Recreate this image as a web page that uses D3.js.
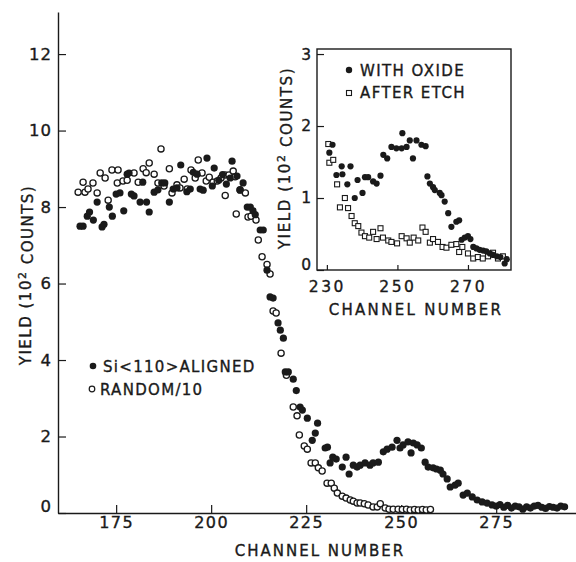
<!DOCTYPE html>
<html><head><meta charset="utf-8">
<script src="https://cdn.jsdelivr.net/npm/d3@7"></script>
<style>
body{margin:0;background:#fff}
svg{display:block}
text{font-family:"DejaVu Sans",sans-serif;fill:#1a1a1a;stroke:#1a1a1a;stroke-width:0.35px}
</style>
</head><body>
<svg id="c" width="576" height="562"></svg>
<script>
// ---------- main chart data ----------
const alignedCh = [165.5,166.3,167.4,168.0,169.0,170.0,171.3,171.8,173.2,174.0,175.0,176.0,177.0,177.9,178.4,179.0,179.7,181.3,182.0,183.0,183.7,185.0,186.0,187.0,187.8,189.0,190.0,191.0,192.0,193.6,194.5,195.3,196.3,197.1,197.9,198.9,200.3,200.8,202.0,203.0,204.0,205.0,205.5,206.8,207.6,208.4,209.5,210.3,211.0,211.6,212.9,213.7,214.7,215.5,216.3,217.6,218.2,219.0,219.5,220.3,221.6,222.4,223.4,224.0,225.3,226.6,227.4,228.0,230.0,230.6,231.3,232.0,232.9,234.5,235.5,236.3,237.4,238.4,239.2,240.5,241.8,242.6,244.0,245.3,246.3,247.6,248.9,249.7,250.5,251.8,252.6,253.2,254.2,255.3,256.3,257.1,258.4,259.3,260.3,261.0,262.1,262.9,264.2,265.0,266.3,267.4,268.7,270.0,271.3,272.6,273.9,275,276,277,278,279,280,281,282,283,284,285,286,287,288,289,290,291,292,293];
const alignedVal = [7.50,7.50,7.76,7.87,7.66,8.13,7.48,7.55,8.00,7.76,8.34,8.37,7.90,8.86,8.89,8.34,8.29,8.13,8.65,8.13,7.87,8.39,8.45,8.63,8.63,8.13,8.47,8.50,9.10,8.40,8.47,8.91,8.86,8.47,8.44,9.28,8.55,9.02,8.70,8.85,8.60,8.76,9.20,8.81,8.44,8.63,8.00,8.00,7.90,7.80,7.40,7.40,6.35,5.65,5.62,4.97,4.78,4.57,3.69,3.69,3.50,3.20,2.77,2.69,2.48,1.90,2.09,2.35,1.70,1.72,1.31,1.46,1.41,1.20,1.46,1.02,1.25,1.20,1.25,1.31,1.25,1.31,1.33,1.60,1.67,1.72,1.90,1.70,1.78,1.86,1.57,1.83,1.78,1.70,1.33,1.20,1.18,1.15,1.12,1.02,0.89,0.68,0.73,0.78,0.47,0.52,0.42,0.34,0.29,0.26,0.21,0.18,0.22,0.15,0.20,0.13,0.18,0.16,0.10,0.16,0.13,0.18,0.20,0.15,0.12,0.17,0.15,0.13,0.18,0.16];

const randomCh = [165.0,166.3,166.8,167.6,168.9,170.0,170.8,172.1,172.9,173.9,175.3,175.5,176.8,177.9,179.7,180.8,182.1,182.9,183.7,185.0,186.0,186.8,187.6,189.0,189.7,191.0,191.8,192.9,193.7,194.7,195.8,196.6,197.6,198.7,199.5,200.5,201.6,202.6,203.7,203.7,204.7,205.8,206.3,206.6,207.6,209.0,209.7,210.5,211.8,212.4,213.4,214.7,215.5,216.3,217.1,218.4,219.8,221.6,222.6,223.2,224.5,225.3,226.3,227.4,228.2,229.2,230.5,231.6,232.4,233.2,234.5,235.5,236.6,237.4,238.4,239.2,240.3,241.3,242.6,243.7,244.5,245.8,246.8,247.9,249.2,250.3,251.4,252.4,253.5,254.5,255.6,256.6,257.7];
const randomVal = [8.39,8.65,8.39,8.47,8.63,8.37,8.89,8.76,8.18,8.97,8.63,8.97,8.68,8.70,8.89,8.65,9.00,8.90,9.15,8.86,8.63,9.52,8.55,9.00,8.37,8.58,8.50,8.73,8.47,8.97,8.76,9.23,8.89,8.68,8.78,8.65,8.68,8.76,8.84,8.30,8.84,8.94,8.79,7.82,8.45,8.37,7.74,7.76,7.66,7.14,6.70,6.50,6.25,5.28,5.23,4.18,3.60,2.77,2.54,2.04,1.75,1.67,1.31,1.31,1.18,1.10,0.78,0.78,0.65,0.52,0.44,0.39,0.34,0.31,0.26,0.26,0.24,0.21,0.16,0.16,0.24,0.13,0.10,0.10,0.10,0.09,0.10,0.08,0.09,0.08,0.09,0.08,0.09];

const mainXTicks = [175,200,225,250,275];
const mainYTicks = [0,2,4,6,8,10,12];
const mainLegend = ["Si<110>ALIGNED","RANDOM/10"];

// ---------- inset data ----------
const oxideCh = [230.7,231.6,232.7,234.2,234.4,235.8,236.7,237.9,238.7,240.1,240.8,241.7,243.1,244.1,245.2,246.0,247.1,248.3,249.7,251.2,251.4,252.6,253.5,254.4,255.4,256.8,258.0,258.5,259.2,260.1,260.6,262.0,262.5,263.4,264.4,265.3,266.7,267.5,268.2,269.1,270.0,270.7,271.5,272.4,273.3,274.3,275.2,276.2,277.1,278.2,279.2,280.4,281.0];
const oxideVal = [1.63,1.74,1.32,1.44,1.33,1.19,1.44,1.00,1.25,1.07,1.29,1.29,1.23,1.20,1.31,1.60,1.55,1.71,1.69,1.69,1.90,1.71,1.80,1.55,1.80,1.74,1.72,1.30,1.20,1.15,1.11,1.07,1.04,0.95,0.79,0.60,0.67,0.69,0.42,0.45,0.47,0.43,0.32,0.30,0.28,0.27,0.26,0.23,0.21,0.19,0.18,0.09,0.15];

const etchCh = [230.4,230.7,231.8,232.9,233.7,235.1,236.0,237.0,237.9,238.9,239.8,240.8,242.0,243.1,244.1,245.2,245.9,247.4,248.3,249.9,251.2,252.6,253.5,254.6,255.9,257.1,258.0,259.2,260.1,261.5,262.8,263.9,265.3,266.7,267.5,268.4,270.0,271.5,272.8,274.2,275.7,277.1,278.5,279.9];
const etchVal = [1.75,1.49,1.53,1.19,0.87,1.00,0.86,0.75,0.65,0.61,0.52,0.47,0.45,0.53,0.43,0.58,0.45,0.41,0.39,0.37,0.47,0.44,0.38,0.45,0.41,0.59,0.53,0.38,0.43,0.39,0.32,0.31,0.35,0.36,0.25,0.32,0.23,0.16,0.18,0.16,0.19,0.24,0.16,0.19];

const insetXTicks = [230,250,270];
const insetYTicks = [0,1,2,3];
const insetLegend = ["WITH OXIDE","AFTER ETCH"];

// ---------- drawing ----------
const ink = "#1a1a1a";
const svg = d3.select("#c");

const x = d3.scaleLinear().domain([159.7, 296]).range([58, 576]);
const y = d3.scaleLinear().domain([0, 13.1]).range([513, 12]);

function styleAxis(g, fs, ls){
  g.selectAll("path.domain").attr("stroke", ink).attr("stroke-width", 1.4);
  g.selectAll(".tick line").attr("stroke", ink).attr("stroke-width", 1.2);
  g.selectAll(".tick text").attr("fill", ink).style("font-size", fs+"px")
    .style("letter-spacing", ls+"px").attr("font-family", '"DejaVu Sans",sans-serif');
}

// main axes
const gx = svg.append("g").attr("transform","translate(0,513)")
  .call(d3.axisBottom(x).tickValues(mainXTicks).tickSize(-8).tickSizeOuter(0).tickPadding(4).tickFormat(d3.format("d")));
styleAxis(gx, 16, 1.5);
const gy = svg.append("g").attr("transform","translate(58,0)")
  .call(d3.axisLeft(y).tickValues(mainYTicks).tickSize(-8).tickSizeOuter(0).tickPadding(6).tickFormat(d3.format("d")));
styleAxis(gy, 16.5, 1);
gy.selectAll(".tick text").filter(d => d === 0).attr("y", -7);

// main axis titles
svg.append("text").attr("x", 320).attr("y", 556).attr("text-anchor","middle")
  .style("font-size","15px").style("letter-spacing","2px").text("CHANNEL NUMBER");
const yt = svg.append("text").attr("transform","translate(26,275) rotate(-90)")
  .attr("text-anchor","middle").attr("dy","0.36em")
  .style("font-size","15px").style("letter-spacing","1.5px");
yt.append("tspan").text("YIELD (10");
yt.append("tspan").attr("dy","-0.45em").style("font-size","11px").text("2");
yt.append("tspan").attr("dy","0.45em").text(" COUNTS)");

// main data
const aligned = alignedCh.map((c,i)=>({c, v: alignedVal[i]}));
const random = randomCh.map((c,i)=>({c, v: randomVal[i]}));

svg.append("g").selectAll("circle").data(random).join("circle")
  .attr("cx", d=>x(d.c)).attr("cy", d=>y(d.v)).attr("r", 3.1)
  .attr("fill","#fff").attr("stroke", ink).attr("stroke-width", 1.3);
svg.append("g").selectAll("circle").data(aligned).join("circle")
  .attr("cx", d=>x(d.c)).attr("cy", d=>y(d.v)).attr("r", 3.6)
  .attr("fill", ink);

// main legend
svg.append("circle").attr("cx", 93).attr("cy", 366).attr("r", 3.3).attr("fill", ink);
svg.append("text").attr("x", 103).attr("y", 372).style("font-size","15px").style("letter-spacing","1.3px").text(mainLegend[0]);
svg.append("circle").attr("cx", 92).attr("cy", 389).attr("r", 2.8).attr("fill","#fff").attr("stroke",ink).attr("stroke-width",1.2);
svg.append("text").attr("x", 100).attr("y", 395).style("font-size","15px").style("letter-spacing","1.3px").text(mainLegend[1]);

// ---------- inset ----------
const xi = d3.scaleLinear().domain([227.2, 282.2]).range([317, 511]);
const yi = d3.scaleLinear().domain([0, 3.07]).range([270, 49]);

svg.append("rect").attr("x",317).attr("y",49).attr("width",194).attr("height",221)
  .attr("fill","#fff").attr("stroke",ink).attr("stroke-width",1.4);

const gxi = svg.append("g").attr("transform","translate(0,270)")
  .call(d3.axisBottom(xi).tickValues(insetXTicks).tickSize(-5).tickSizeOuter(0).tickPadding(11).tickFormat(d3.format("d")));
styleAxis(gxi, 15.5, 2.5);
gxi.select("path.domain").remove();
const gyi = svg.append("g").attr("transform","translate(317,0)")
  .call(d3.axisLeft(yi).tickValues(insetYTicks).tickSize(-7).tickSizeOuter(0).tickPadding(6).tickFormat(d3.format("d")));
styleAxis(gyi, 15.5, 0);
gyi.select("path.domain").remove();
gyi.selectAll(".tick text").filter(d => d === 0).attr("y", -5);

svg.append("text").attr("x", 416).attr("y", 315).attr("text-anchor","middle")
  .style("font-size","15px").style("letter-spacing","2.3px").text("CHANNEL NUMBER");
const yti = svg.append("text").attr("transform","translate(285,158) rotate(-90)")
  .attr("text-anchor","middle").attr("dy","0.36em")
  .style("font-size","15px").style("letter-spacing","1.6px");
yti.append("tspan").text("YIELD (10");
yti.append("tspan").attr("dy","-0.45em").style("font-size","11px").text("2");
yti.append("tspan").attr("dy","0.45em").text(" COUNTS)");

const oxide = oxideCh.map((c,i)=>({c, v: oxideVal[i]}));
const etch = etchCh.map((c,i)=>({c, v: etchVal[i]}));
const sq = 5;
svg.append("g").selectAll("rect").data(etch).join("rect")
  .attr("x", d=>xi(d.c)-sq/2).attr("y", d=>yi(d.v)-sq/2).attr("width", sq).attr("height", sq)
  .attr("fill","#fff").attr("stroke",ink).attr("stroke-width",1.1);
svg.append("g").selectAll("circle").data(oxide).join("circle")
  .attr("cx", d=>xi(d.c)).attr("cy", d=>yi(d.v)).attr("r", 3.1)
  .attr("fill", ink);

// inset legend
svg.append("circle").attr("cx", 349).attr("cy", 70).attr("r", 3.2).attr("fill", ink);
svg.append("text").attr("x", 360).attr("y", 76).style("font-size","15px").style("letter-spacing","1.4px").text(insetLegend[0]);
svg.append("rect").attr("x", 346.5).attr("y", 90.5).attr("width", 5).attr("height", 5)
  .attr("fill","#fff").attr("stroke",ink).attr("stroke-width",1.1);
svg.append("text").attr("x", 360).attr("y", 98).style("font-size","15px").style("letter-spacing","1.4px").text(insetLegend[1]);
</script>
</body></html>
